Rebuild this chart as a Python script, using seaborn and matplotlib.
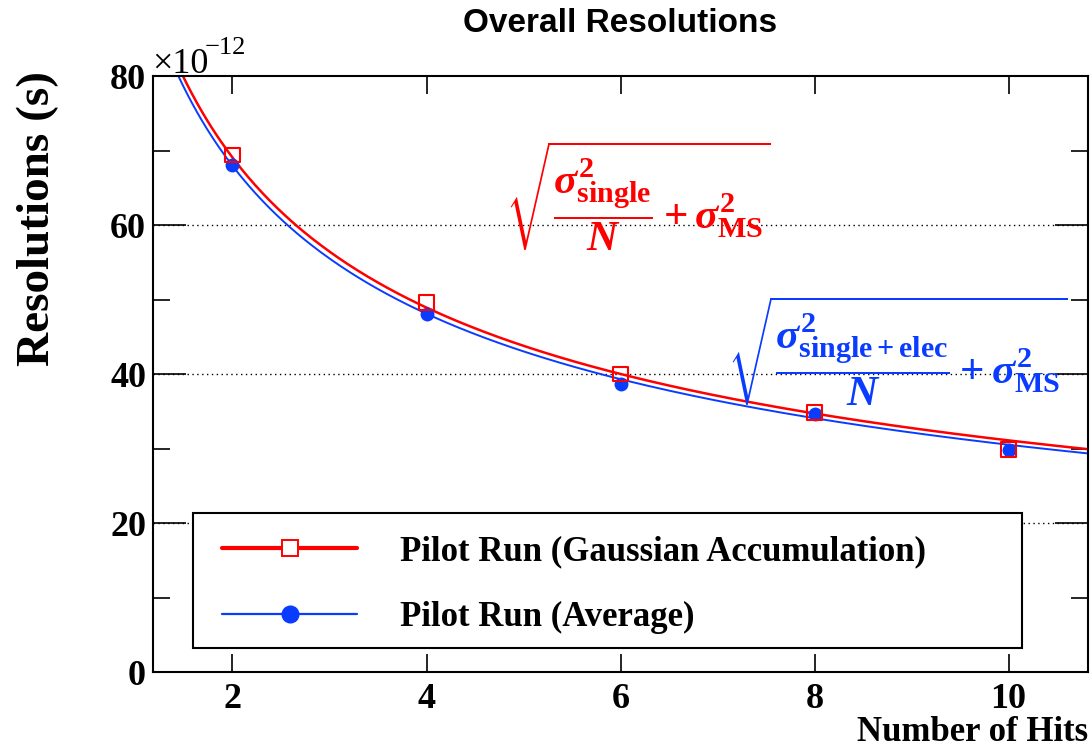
import numpy as np
import pandas as pd
import seaborn as sns
import matplotlib
matplotlib.use("Agg")
import matplotlib.pyplot as plt
from matplotlib.lines import Line2D
from matplotlib.patches import Rectangle
from matplotlib.ticker import MultipleLocator

# Measured resolutions (units of 1e-12 s) versus number of hits
n_hits = [2, 4, 6, 8, 10]
res_gauss = [69.4, 49.6, 40.0, 34.8, 29.9]     # Pilot Run (Gaussian Accumulation)
res_average = [68.1, 48.0, 38.7, 34.6, 29.8]   # Pilot Run (Average)

# Fit parameters of sqrt(sigma_single^2 / N + sigma_MS^2), in 1e-12 s
fit_gauss = {"sigma_single": 97.5, "sigma_ms": 4.0}
fit_average = {"sigma_single": 96.0, "sigma_ms": 3.0}

labels = ["Pilot Run (Gaussian Accumulation)", "Pilot Run (Average)"]
x_ticks = [2, 4, 6, 8, 10]
y_ticks = [0, 20, 40, 60, 80]

RED = "#ff0000"
BLUE = "#0a3cff"

sns.set_theme(style="white")
plt.rcParams["font.family"] = ["Liberation Serif", "DejaVu Sans"]
plt.rcParams["text.color"] = "black"
plt.rcParams["axes.labelcolor"] = "black"
plt.rcParams["xtick.color"] = "black"
plt.rcParams["ytick.color"] = "black"
plt.rcParams["mathtext.fontset"] = "custom"
plt.rcParams["mathtext.rm"] = "Liberation Serif:bold"
plt.rcParams["mathtext.it"] = "Liberation Serif:bold:italic"
plt.rcParams["mathtext.bf"] = "Liberation Serif:bold"

fig = plt.figure(figsize=(10.91, 7.49), dpi=100)
ax = fig.add_axes([0.1402, 0.1028, 0.8571, 0.7957])

xlim = (1.18, 10.82)
ylim = (0, 80)

# Fit curves
xs = np.linspace(1.2, xlim[1], 400)
def fit_curve(p, x):
    return np.sqrt(p["sigma_single"] ** 2 / x + p["sigma_ms"] ** 2)

curves = pd.DataFrame({
    "N": np.concatenate([xs, xs]),
    "res": np.concatenate([fit_curve(fit_average, xs), fit_curve(fit_gauss, xs)]),
    "series": [labels[1]] * len(xs) + [labels[0]] * len(xs),
})
sns.lineplot(data=curves[curves.series == labels[1]], x="N", y="res", ax=ax,
             color=BLUE, lw=1.4, legend=False)
sns.lineplot(data=curves[curves.series == labels[0]], x="N", y="res", ax=ax,
             color=RED, lw=1.8, legend=False)

# Data points
pts_avg = pd.DataFrame({"N": n_hits, "res": res_average})
pts_gauss = pd.DataFrame({"N": n_hits, "res": res_gauss})
sns.scatterplot(data=pts_avg, x="N", y="res", ax=ax, marker="o", s=100,
                color=BLUE, edgecolor=BLUE, linewidth=0, zorder=4, legend=False)
sns.scatterplot(data=pts_gauss, x="N", y="res", ax=ax, marker="s", s=110,
                facecolor="none", edgecolor=RED, linewidth=1.5, zorder=5, legend=False)

ax.set_xlim(*xlim)
ax.set_ylim(*ylim)
ax.set_xticks(x_ticks)
ax.set_yticks(y_ticks)
ax.yaxis.set_minor_locator(MultipleLocator(10))

for s in ax.spines.values():
    s.set_color("black")
    s.set_linewidth(1.5)

ax.tick_params(axis="x", which="major", direction="in", length=13, width=1.2,
               top=True, bottom=True, pad=8, labelsize=26, colors="black")
ax.tick_params(axis="y", which="major", direction="in", length=24, width=1.2,
               left=True, right=True, pad=5, labelsize=26, colors="black")
ax.tick_params(axis="y", which="minor", direction="in", length=12, width=1.2,
               left=True, right=True)
for lab in ax.get_xticklabels() + ax.get_yticklabels():
    lab.set_fontweight("bold")
    lab.set_color("black")

# Dotted horizontal grid
for yv in y_ticks[1:-1]:
    ax.axhline(yv, color="black", lw=1.0, ls=(0, (1, 2.5)), zorder=1)

ax.set_xlabel("")
ax.set_ylabel("")

fig.text(0.9973, 0.0, "Number of Hits", ha="right", va="bottom",
         fontsize=25, fontweight="bold")
fig.text(0.035, 0.905, "Resolutions (s)", rotation=90, ha="center", va="top",
         fontsize=34, fontweight="bold")
fig.text(0.5685, 0.968, "Overall Resolutions", ha="center", va="center",
         fontsize=24, fontweight="bold", family="Liberation Sans")
fig.text(0.139, 0.902, "\u00d710", ha="left", va="baseline", fontsize=26)
fig.text(0.188, 0.928, "\u221212", ha="left", va="baseline", fontsize=19)

# Formula annotations
ax.text(0.519, 0.799, r"$\sqrt{\dfrac{\sigma^{2}_{\mathrm{single}}}{N}+\sigma^{2}_{\mathrm{MS}}}$",
        transform=ax.transAxes, ha="center", va="center", color=RED, fontsize=31)
ax.text(0.796, 0.539, r"$\sqrt{\dfrac{\sigma^{2}_{\mathrm{single+elec}}}{N}+\sigma^{2}_{\mathrm{MS}}}$",
        transform=ax.transAxes, ha="center", va="center", color=BLUE, fontsize=31)

# Legend box drawn as its own frame, entries placed inside it
frame = Rectangle((0.0428, 0.0403), 0.8866, 0.2265, transform=ax.transAxes,
                  facecolor="white", edgecolor="black", lw=1.5, zorder=6)
ax.add_patch(frame)

handles = [
    Line2D([], [], color=RED, lw=3, marker="s", markersize=11,
           markerfacecolor="white", markeredgecolor=RED, markeredgewidth=1.4),
    Line2D([], [], color=BLUE, lw=1.6, marker="o", markersize=12,
           markerfacecolor=BLUE, markeredgecolor=BLUE),
]
leg = ax.legend(handles, labels, loc="upper left",
                bbox_to_anchor=(0.0738, 0.230), borderaxespad=0, borderpad=0,
                frameon=False,
                prop={"family": "Liberation Serif", "weight": "bold", "size": 25},
                handlelength=3.9, handletextpad=1.24, labelspacing=0.95)
leg.set_zorder(7)
for t in leg.get_texts():
    t.set_color("black")

fig.savefig("out.png", dpi=100)
